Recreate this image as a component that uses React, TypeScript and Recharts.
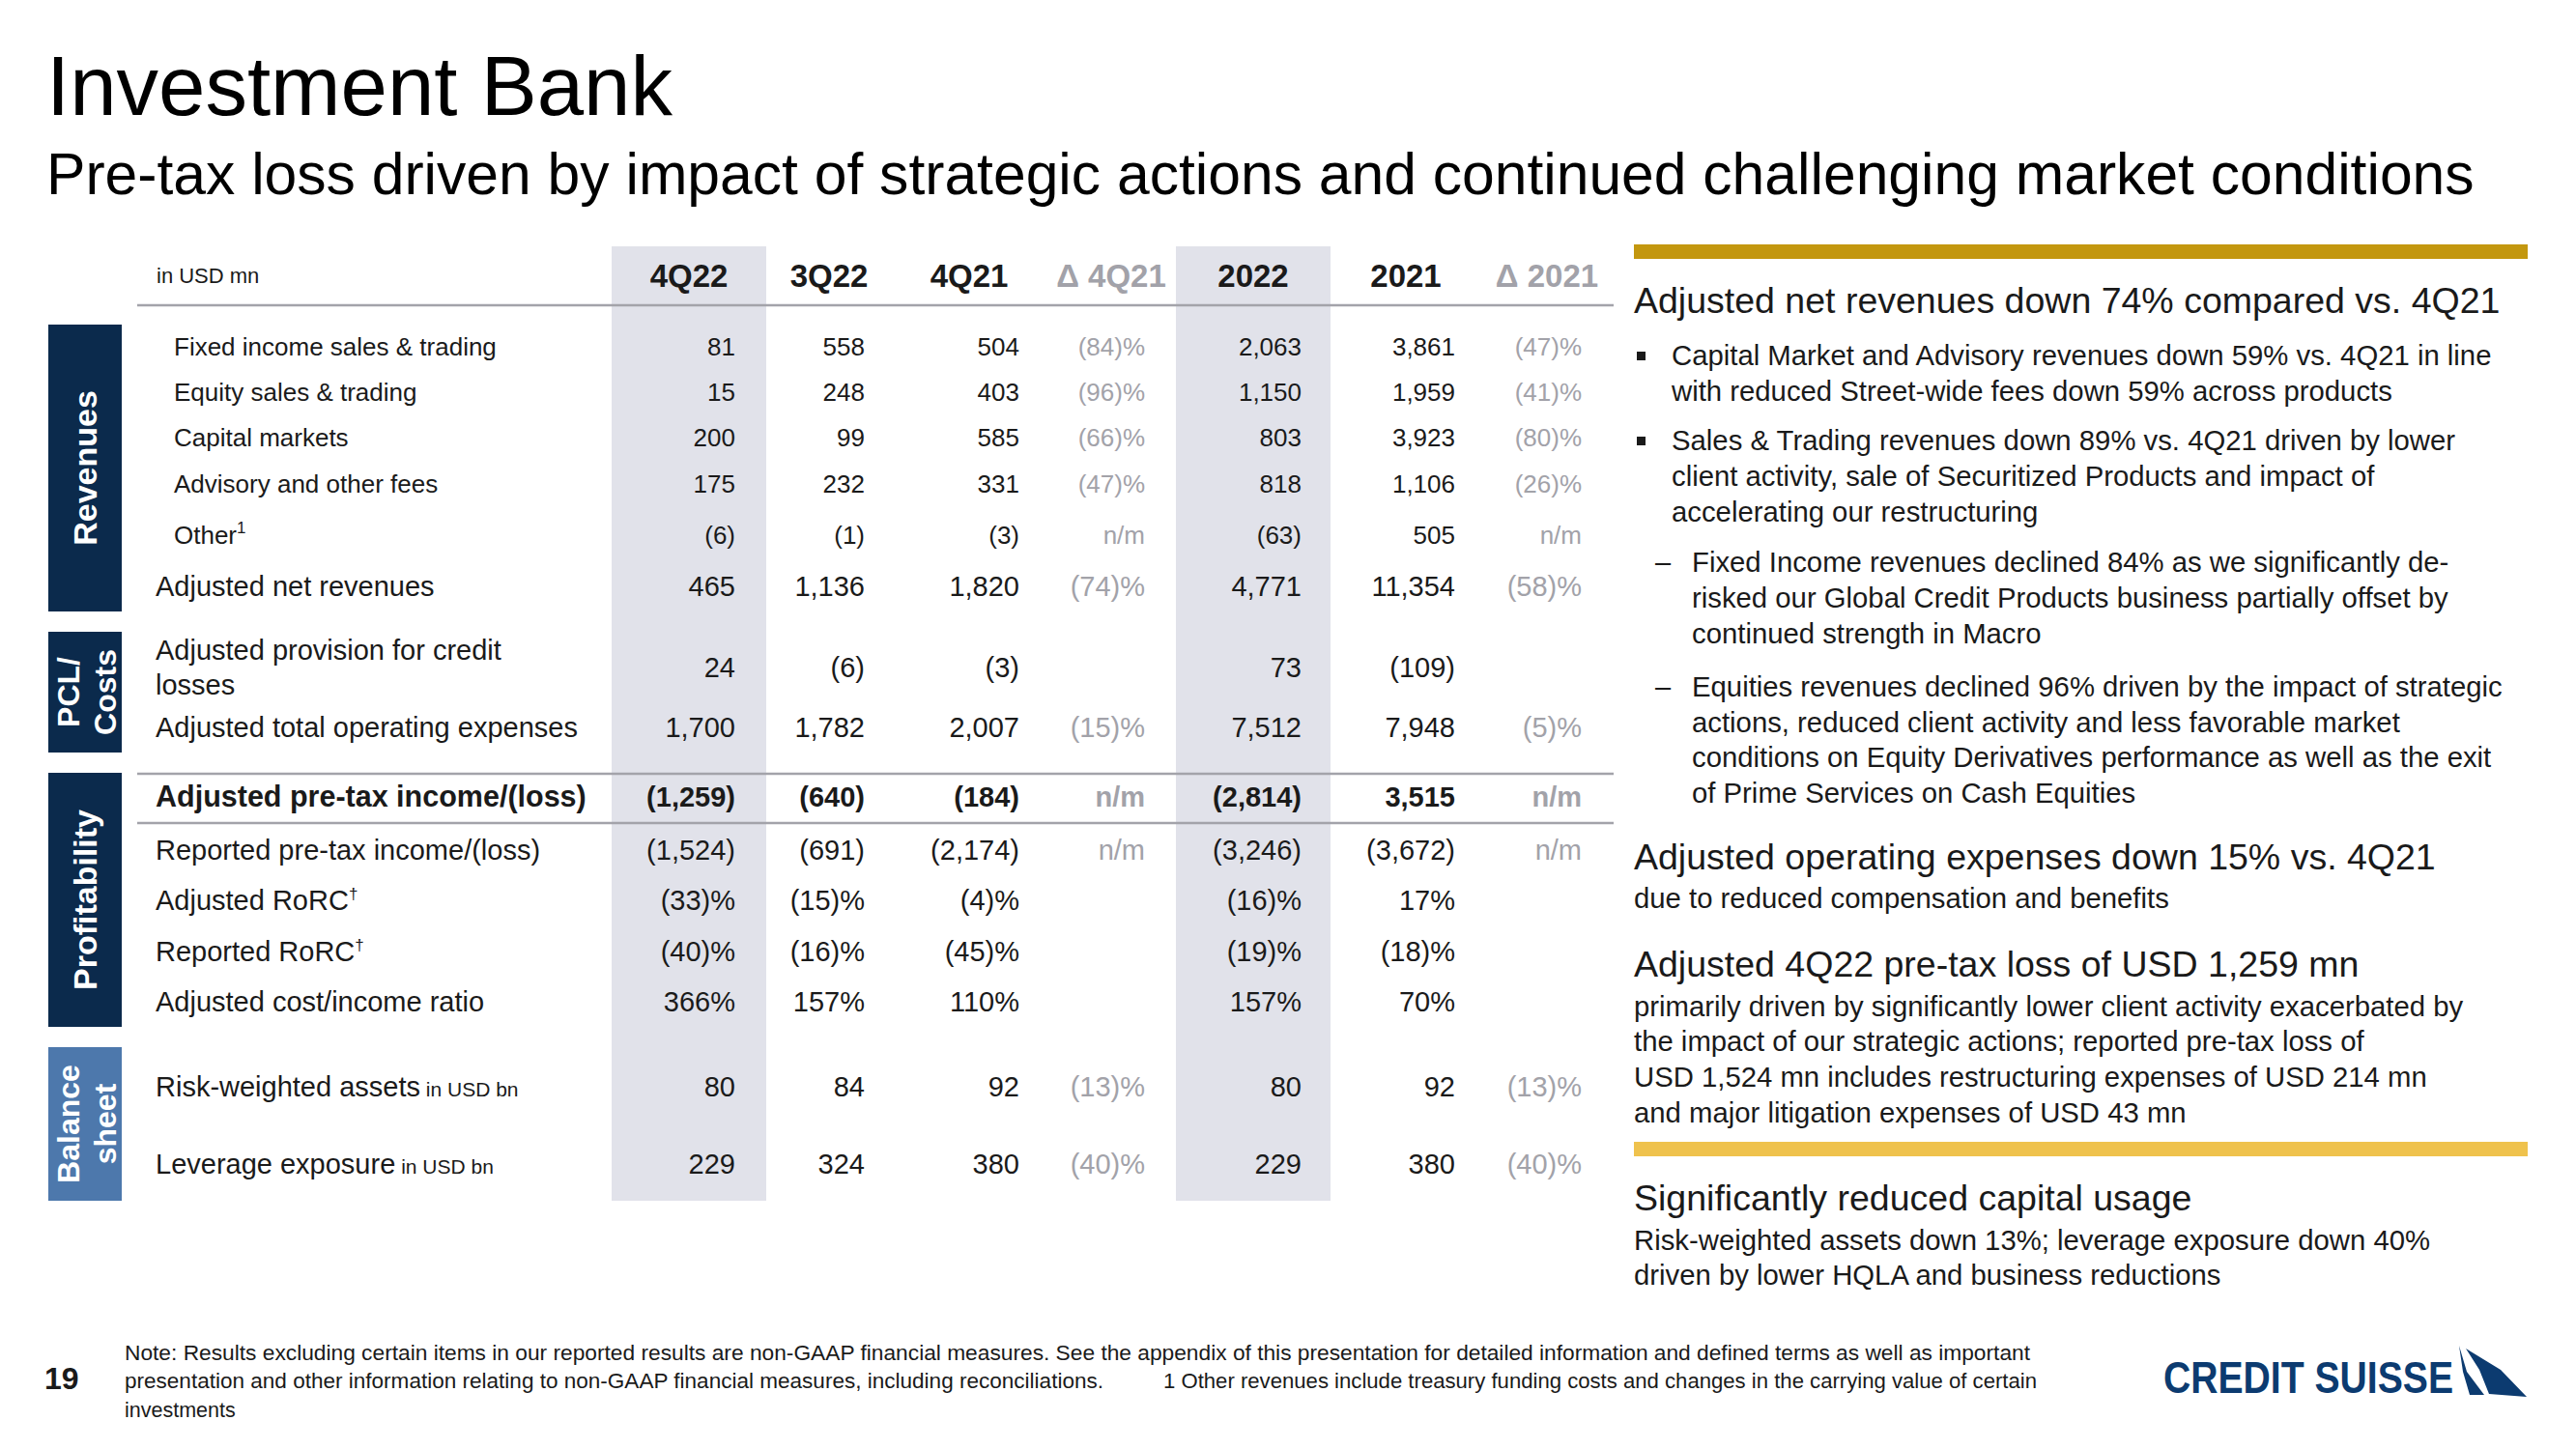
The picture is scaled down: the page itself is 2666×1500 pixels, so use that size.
import React from 'react';
import { Surface, Layer, Rectangle } from 'recharts';

// 表の列と値（USD mn, % は pct 行）
const columns = ['4Q22', '3Q22', '4Q21', 'Δ 4Q21', '2022', '2021', 'Δ 2021'];
const deltaColumns = [3, 6];
const highlightColumns = [0, 4];

const rowLabels = [
  'Fixed income sales & trading',
  'Equity sales & trading',
  'Capital markets',
  'Advisory and other fees',
  'Other',
  'Adjusted net revenues',
  'Adjusted provision for credit losses',
  'Adjusted total operating expenses',
  'Adjusted pre-tax income/(loss)',
  'Reported pre-tax income/(loss)',
  'Adjusted RoRC',
  'Reported RoRC',
  'Adjusted cost/income ratio',
  'Risk-weighted assets',
  'Leverage exposure',
];
const rowMarks = ['', '', '', '', '1', '', '', '', '', '', '†', '†', '', '', ''];
const rowNotes = ['', '', '', '', '', '', '', '', '', '', '', '', '', 'in USD bn', 'in USD bn'];
const rowUnits = ['mn', 'mn', 'mn', 'mn', 'mn', 'mn', 'mn', 'mn', 'mn', 'mn', 'pct', 'pct', 'pct', 'bn', 'bn'];

const q4_22 = [81, 15, 200, 175, -6, 465, 24, 1700, -1259, -1524, -33, -40, 366, 80, 229];
const q3_22 = [558, 248, 99, 232, -1, 1136, -6, 1782, -640, -691, -15, -16, 157, 84, 324];
const q4_21 = [504, 403, 585, 331, -3, 1820, -3, 2007, -184, -2174, -4, -45, 110, 92, 380];
const delta4Q21 = [-84, -96, -66, -47, 'n/m', -74, null, -15, 'n/m', 'n/m', null, null, null, -13, -40];
const fy2022 = [2063, 1150, 803, 818, -63, 4771, 73, 7512, -2814, -3246, -16, -19, 157, 80, 229];
const fy2021 = [3861, 1959, 3923, 1106, 505, 11354, -109, 7948, 3515, -3672, 17, -18, 70, 92, 380];
const delta2021 = [-47, -41, -80, -26, 'n/m', -58, null, -5, 'n/m', 'n/m', null, null, null, -13, -40];

const columnValues: (number | string | null)[][] = [q4_22, q3_22, q4_21, delta4Q21, fy2022, fy2021, delta2021];

// 左側のカテゴリ
const sections = [
  { lines: ['Revenues'], dark: true },
  { lines: ['PCL/', 'Costs'], dark: true },
  { lines: ['Profitability'], dark: true },
  { lines: ['Balance', 'sheet'], dark: false },
];

// レイアウト
const FONT = '"Liberation Sans", Arial, Helvetica, sans-serif';
const INK = '#1a1a1a';
const GREY = '#a2a2a9';
const NAVY = '#0b2a4c';
const STEEL = '#4d78ac';
const BAND = '#e1e2ea';
const RULE = '#a3a3aa';
const LOGO = '#0c3b70';

const ROW_Y = [368, 415, 462, 510, 563, 617, 701, 763, 835, 890, 942, 995, 1047, 1135, 1215];
const ROW_KIND = ['sub', 'sub', 'sub', 'sub', 'sub', 'main', 'main', 'main', 'bold', 'main', 'main', 'main', 'main', 'main', 'main'];
const COL_RIGHT = [761, 895, 1055, 1185, 1347, 1506, 1637];
const COL_CENTER = [713, 858, 1003, 1150, 1297, 1455, 1601];
const SECTION_Y = [
  [336, 633],
  [654, 779],
  [800, 1063],
  [1084, 1243],
];

const fmtNum = (n: number) => Math.abs(n).toString().replace(/\B(?=(\d{3})+(?!\d))/g, ',');
const fmt = (v: number | string | null, pct: boolean) => {
  if (v === null) return '';
  if (typeof v === 'string') return v;
  const core = v < 0 ? `(${fmtNum(v)})` : fmtNum(v);
  return pct ? `${core}%` : core;
};

const Lines = ({ x, ys, lines, size, weight = 400 }: any) => (
  <>
    {lines.map((l: string, i: number) => (
      <text key={i} x={x} y={ys[i]} fontSize={size} fontWeight={weight} fill={INK}>
        {l}
      </text>
    ))}
  </>
);

const Table = () => (
  <Layer>
    {highlightColumns.map((c) => (
      <Rectangle key={c} x={COL_CENTER[c] - 80} y={255} width={160} height={988} fill={BAND} />
    ))}
    <text x={162} y={293} fontSize={22} fill={INK}>in USD mn</text>
    {columns.map((c, i) => (
      <text
        key={c}
        x={COL_CENTER[i]}
        y={297}
        fontSize={33}
        fontWeight={700}
        textAnchor="middle"
        fill={deltaColumns.includes(i) ? GREY : INK}
      >
        {c}
      </text>
    ))}
    <line x1={142} x2={1670} y1={316} y2={316} stroke={RULE} strokeWidth={2.5} />
    <line x1={142} x2={1670} y1={801} y2={801} stroke={RULE} strokeWidth={2.5} />
    <line x1={142} x2={1670} y1={852} y2={852} stroke={RULE} strokeWidth={2.5} />

    {sections.map((s, i) => {
      const [y0, y1] = SECTION_Y[i];
      const cy = (y0 + y1) / 2;
      const xs = s.lines.length === 1 ? [100] : [82, 120];
      return (
        <g key={i}>
          <Rectangle x={50} y={y0} width={76} height={y1 - y0} fill={s.dark ? NAVY : STEEL} />
          {s.lines.map((l, j) => (
            <text
              key={j}
              x={xs[j]}
              y={cy}
              fontSize={s.lines.length === 1 ? 34 : 32}
              fontWeight={700}
              fill="#ffffff"
              textAnchor="middle"
              transform={`rotate(-90 ${xs[j]} ${cy})`}
            >
              {l}
            </text>
          ))}
        </g>
      );
    })}

    {rowLabels.map((label, r) => {
      const kind = ROW_KIND[r];
      const size = kind === 'sub' ? 26 : kind === 'bold' ? 30.5 : 29;
      const weight = kind === 'bold' ? 700 : 400;
      const x = kind === 'sub' ? 180 : 161;
      if (r === 6) {
        const words = label.split(' ');
        return (
          <g key={r}>
            <text x={x} y={683} fontSize={size} fill={INK}>{words.slice(0, 4).join(' ')}</text>
            <text x={x} y={719} fontSize={size} fill={INK}>{words.slice(4).join(' ')}</text>
          </g>
        );
      }
      return (
        <text key={r} x={x} y={ROW_Y[r]} fontSize={size} fontWeight={weight} fill={INK}>
          {label}
          {rowMarks[r] && (
            <tspan fontSize={17} dy={-11}>{rowMarks[r]}</tspan>
          )}
          {rowNotes[r] && (
            <tspan fontSize={21}>{' ' + rowNotes[r]}</tspan>
          )}
        </text>
      );
    })}

    {columnValues.map((vals, c) =>
      vals.map((v, r) => {
        const kind = ROW_KIND[r];
        const isDelta = deltaColumns.includes(c);
        const pct = isDelta || rowUnits[r] === 'pct';
        return (
          <text
            key={`${c}-${r}`}
            x={COL_RIGHT[c]}
            y={ROW_Y[r]}
            fontSize={kind === 'sub' ? 26 : 29}
            fontWeight={kind === 'bold' ? 700 : 400}
            textAnchor="end"
            fill={isDelta ? GREY : INK}
          >
            {fmt(v, pct)}
          </text>
        );
      })
    )}
  </Layer>
);

const Panel = () => (
  <Layer>
    <Rectangle x={1691} y={253} width={925} height={15} fill="#c3970f" />
    <text x={1691} y={324} fontSize={37.5} fill={INK}>Adjusted net revenues down 74% compared vs. 4Q21</text>

    <Rectangle x={1694} y={364} width={9} height={9} fill={INK} />
    <Lines
      x={1730}
      ys={[378, 415]}
      size={29.3}
      lines={['Capital Market and Advisory revenues down 59% vs. 4Q21 in line', 'with reduced Street-wide fees down 59% across products']}
    />
    <Rectangle x={1694} y={452} width={9} height={9} fill={INK} />
    <Lines
      x={1730}
      ys={[466, 503, 540]}
      size={29.3}
      lines={[
        'Sales & Trading revenues down 89% vs. 4Q21 driven by lower',
        'client activity, sale of Securitized Products and impact of',
        'accelerating our restructuring',
      ]}
    />
    <text x={1713} y={592} fontSize={29} fill={INK}>–</text>
    <Lines
      x={1751}
      ys={[592, 629, 666]}
      size={29.3}
      lines={[
        'Fixed Income revenues declined 84% as we significantly de-',
        'risked our Global Credit Products business partially offset by',
        'continued strength in Macro',
      ]}
    />
    <text x={1713} y={721} fontSize={29} fill={INK}>–</text>
    <Lines
      x={1751}
      ys={[721, 758, 794, 831]}
      size={29.3}
      lines={[
        'Equities revenues declined 96% driven by the impact of strategic',
        'actions, reduced client activity and less favorable market',
        'conditions on Equity Derivatives performance as well as the exit',
        'of Prime Services on Cash Equities',
      ]}
    />

    <text x={1691} y={900} fontSize={37.5} fill={INK}>Adjusted operating expenses down 15% vs. 4Q21</text>
    <text x={1691} y={940} fontSize={29.3} fill={INK}>due to reduced compensation and benefits</text>

    <text x={1691} y={1011} fontSize={37.5} fill={INK}>Adjusted 4Q22 pre-tax loss of USD 1,259 mn</text>
    <Lines
      x={1691}
      ys={[1052, 1088, 1125, 1162]}
      size={29.3}
      lines={[
        'primarily driven by significantly lower client activity exacerbated by',
        'the impact of our strategic actions; reported pre-tax loss of',
        'USD 1,524 mn includes restructuring expenses of USD 214 mn',
        'and major litigation expenses of USD 43 mn',
      ]}
    />

    <Rectangle x={1691} y={1182} width={925} height={15} fill="#efc24d" />
    <text x={1691} y={1253} fontSize={37.5} fill={INK}>Significantly reduced capital usage</text>
    <Lines
      x={1691}
      ys={[1294, 1330]}
      size={29.3}
      lines={['Risk-weighted assets down 13%; leverage exposure down 40%', 'driven by lower HQLA and business reductions']}
    />
  </Layer>
);

const Footer = () => (
  <Layer>
    <text x={46} y={1438} fontSize={32} fontWeight={700} fill={INK}>19</text>
    <text x={129} y={1408} fontSize={21.5} fill={INK} textLength={1972} lengthAdjust="spacingAndGlyphs">
      Note: Results excluding certain items in our reported results are non-GAAP financial measures. See the appendix of this presentation for detailed information and defined terms as well as important
    </text>
    <text x={129} y={1437} fontSize={21.5} fill={INK} textLength={1013} lengthAdjust="spacingAndGlyphs">
      presentation and other information relating to non-GAAP financial measures, including reconciliations.
    </text>
    <text x={1204} y={1437} fontSize={21.5} fill={INK} textLength={904} lengthAdjust="spacingAndGlyphs">
      1 Other revenues include treasury funding costs and changes in the carrying value of certain
    </text>
    <text x={129} y={1467} fontSize={21.5} fill={INK}>investments</text>

    <text x={2239} y={1442} fontSize={46} fontWeight={700} fill={LOGO} textLength={300} lengthAdjust="spacingAndGlyphs">
      CREDIT SUISSE
    </text>
    <path d="M2545 1393 L2553 1420 L2571 1444 L2556 1444 L2549 1420 Z" fill={LOGO} />
    <path d="M2552 1396 L2588 1418 L2615 1446 L2576 1443 L2566 1418 Z" fill={LOGO} />
  </Layer>
);

export default function App() {
  return (
    <div style={{ position: 'absolute', left: 0, top: 0, width: 2666, height: 1500, background: '#ffffff' }}>
      <Surface width={2666} height={1500} style={{ fontFamily: FONT }}>
        <text x={48} y={119} fontSize={87} fill="#000000">Investment Bank</text>
        <text x={48} y={201} fontSize={60.6} fill="#000000">
          Pre-tax loss driven by impact of strategic actions and continued challenging market conditions
        </text>
        <Table />
        <Panel />
        <Footer />
      </Surface>
    </div>
  );
}
